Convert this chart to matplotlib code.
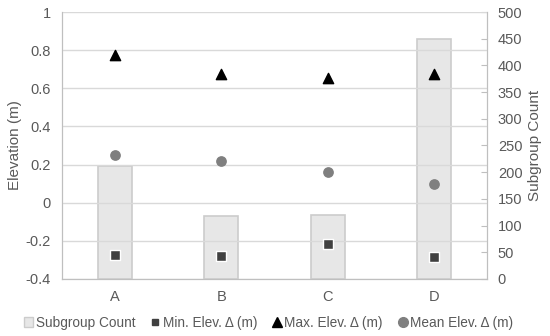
import matplotlib.pyplot as plt
import numpy as np
from matplotlib.patches import Patch
from matplotlib.lines import Line2D

plt.rcParams['font.family'] = ['Liberation Sans', 'DejaVu Sans']

# data
groups = ['A', 'B', 'C', 'D']
count = [212, 117, 120, 450]
min_elev = [-0.275, -0.28, -0.215, -0.285]
max_elev = [0.775, 0.675, 0.655, 0.675]
mean_elev = [0.25, 0.22, 0.16, 0.10]

txt = '#595959'
fs = 10.5
x = np.arange(len(groups))

fig = plt.figure(figsize=(5.5, 3.36), dpi=100)
ax = fig.add_axes([0.113, 0.170, 0.772, 0.794])
ax2 = ax.twinx()

# bars behind on the count axis
ax2.bar(x, count, width=0.32, color='#e7e7e7', edgecolor='#cccccc', linewidth=1.2)
ax2.set_ylim(0, 500)
ax2.set_yticks(np.arange(0, 501, 50))
ax2.set_ylabel('Subgroup Count', color=txt, fontsize=11, labelpad=4)
ax2.tick_params(axis='y', direction='in', length=4, color='#bfbfbf',
                labelcolor=txt, labelsize=fs, pad=8)

ax.set_zorder(ax2.get_zorder() + 1)
ax.patch.set_visible(False)

ax.scatter(x, min_elev, marker='s', s=55, color='#404040', edgecolors='white', linewidths=1, zorder=3)
ax.scatter(x, max_elev, marker='^', s=55, color='black', zorder=3)
ax.scatter(x, mean_elev, marker='o', s=45, color='#7f7f7f', zorder=3)

ax.set_ylim(-0.4, 1.0)
ax.set_yticks(np.arange(-0.4, 1.01, 0.2))
ax.set_yticklabels(['-0.4', '-0.2', '0', '0.2', '0.4', '0.6', '0.8', '1'])
ax.set_xlim(-0.5, 3.5)
ax.set_xticks(x)
ax.set_xticklabels(groups)
ax.set_ylabel('Elevation (m)', color=txt, fontsize=11, labelpad=3)
ax.yaxis.grid(True, color='#d9d9d9', linewidth=1)
ax.tick_params(axis='both', length=0, labelcolor=txt, labelsize=fs, pad=8)

for a in (ax, ax2):
    a.spines['top'].set_visible(False)
    for s in ('left', 'right', 'bottom'):
        a.spines[s].set_color('#bfbfbf')

handles = [
    Patch(facecolor='#e7e7e7', edgecolor='#cccccc', label='Subgroup Count'),
    Line2D([], [], marker='s', linestyle='none', color='#404040', markersize=5, label='Min. Elev. Δ (m)'),
    Line2D([], [], marker='^', linestyle='none', color='black', markersize=7, label='Max. Elev. Δ (m)'),
    Line2D([], [], marker='o', linestyle='none', color='#7f7f7f', markersize=7, label='Mean Elev. Δ (m)'),
]
leg = fig.legend(handles=handles, loc='center', bbox_to_anchor=(0.488, 0.04), ncol=4,
                 frameon=False, fontsize=9.8, handlelength=0.7, handletextpad=0.2,
                 columnspacing=1.1, labelcolor=txt)

fig.savefig('out.png', dpi=100)
